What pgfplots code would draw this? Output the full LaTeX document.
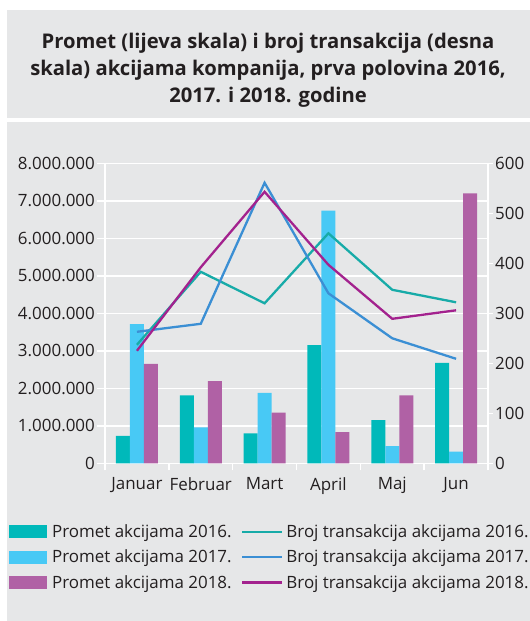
\documentclass[border=0pt]{standalone}
\usepackage{pgfplots}
\pgfplotsset{compat=1.18}
\usepackage{fontspec}
\setmainfont{Open Sans}
\definecolor{bg}{HTML}{E6E7E8}
\definecolor{barA}{HTML}{00B9BA}
\definecolor{barB}{HTML}{48C9F5}
\definecolor{barC}{HTML}{B061A5}
\definecolor{lnA}{HTML}{17ABA8}
\definecolor{lnB}{HTML}{3B8FD4}
\definecolor{lnC}{HTML}{A3228E}
\definecolor{txt}{HTML}{231F20}
\begin{document}
\begin{tikzpicture}[x=1bp,y=1bp]
\fill[bg] (7,0) rectangle (530,499);
\fill[bg] (7,503) rectangle (530,611);
\node[align=center, text=txt, font=\fontsize{20.3}{27}\selectfont\bfseries] at (268,551)
 {Promet (lijeva skala) i broj transakcija (desna\\skala) akcijama kompanija, prva polovina 2016,\\2017. i 2018. godine};
\begin{axis}[
  at={(105bp,157.7bp)}, anchor=south west,
  scale only axis, width=383bp, height=300bp,
  xmin=-0.5, xmax=5.5, ymin=0, ymax=8000000,
  axis x line*=bottom, axis y line*=left,
  axis line style={white, line width=1.5bp, -},
  xtick={0,1,2,3,4,5},
  xticklabels={Januar,Februar,Mart,April,Maj,Jun},
  minor xtick={-0.5,0.5,1.5,2.5,3.5,4.5,5.5},
  major x tick style={draw=none},
  minor x tick style={white, line width=1.5bp},
  ytick={0,1000000,2000000,3000000,4000000,5000000,6000000,7000000,8000000},
  yticklabels={0,1.000.000,2.000.000,3.000.000,4.000.000,5.000.000,6.000.000,7.000.000,8.000.000},
  scaled y ticks=false,
  tick align=outside,
  major tick length=8bp, minor tick length=7bp,
  y tick style={white, line width=1.5bp},
  ymajorgrids, grid style={white, line width=1.5bp},
  tick label style={font=\fontsize{17}{20}\selectfont, text=txt},
  yticklabel style={inner sep=2bp},
  xticklabel style={inner sep=2bp, yshift=-4bp},
  legend style={at={(-0.2507,-0.197)}, anchor=north west, draw=none, fill=none,
    font=\fontsize{17}{20}\selectfont, text=txt, row sep=7bp, inner sep=0pt,
    nodes={inner sep=2bp}},
  legend cell align=left,
]
\addplot[ybar, bar width=14bp, bar shift=-14bp, fill=barA, draw=none,
  legend image code/.code={\path[fill=barA] (0bp,-6.5bp) rectangle (38bp,6.5bp); \path (41bp,0bp);}]
  coordinates {(0,730000) (1,1810000) (2,800000) (3,3150000) (4,1150000) (5,2680000)};
\addlegendentry{Promet akcijama 2016.}
\addplot[ybar, bar width=14bp, bar shift=0bp, fill=barB, draw=none,
  legend image code/.code={\path[fill=barB] (0bp,-6.5bp) rectangle (38bp,6.5bp); \path (41bp,0bp);}]
  coordinates {(0,3710000) (1,960000) (2,1880000) (3,6740000) (4,460000) (5,310000)};
\addlegendentry{Promet akcijama 2017.}
\addplot[ybar, bar width=14bp, bar shift=14bp, fill=barC, draw=none,
  legend image code/.code={\path[fill=barC] (0bp,-6.5bp) rectangle (38bp,6.5bp); \path (41bp,0bp);}]
  coordinates {(0,2650000) (1,2190000) (2,1350000) (3,830000) (4,1810000) (5,7200000)};
\addlegendentry{Promet akcijama 2018.}
\end{axis}
\begin{axis}[
  at={(105bp,157.7bp)}, anchor=south west,
  scale only axis, width=383bp, height=300bp,
  xmin=-0.5, xmax=5.5, ymin=0, ymax=600,
  axis x line=none, axis y line*=right,
  axis line style={white, line width=1.5bp, -},
  ytick={0,100,200,300,400,500,600},
  yticklabels={0,100,200,300,400,500,600},
  tick align=outside, major tick length=5bp,
  y tick style={white, line width=1.5bp},
  tick label style={font=\fontsize{17}{20}\selectfont, text=txt},
  yticklabel style={inner sep=2bp},
  clip=false,
  legend style={at={(0.355,-0.197)}, anchor=north west, draw=none, fill=none,
    font=\fontsize{17}{20}\selectfont, text=txt, row sep=7bp, inner sep=0pt,
    nodes={inner sep=2bp}},
  legend cell align=left,
  legend image code/.code={\draw[#1] (0bp,0bp) -- (40bp,0bp); \path (41bp,0bp);},
]
\addplot[lnA, line width=2.3bp] coordinates {(0,237) (1,383) (2,320) (3,460) (4,347) (5,322)};
\addlegendentry{Broj transakcija akcijama 2016.}
\addplot[lnB, line width=2.3bp] coordinates {(0,263) (1,279) (2,561) (3,340) (4,250) (5,209)};
\addlegendentry{Broj transakcija akcijama 2017.}
\addplot[lnC, line width=2.3bp] coordinates {(0,225) (1,392) (2,543) (3,397) (4,289) (5,306)};
\addlegendentry{Broj transakcija akcijama 2018.}
\end{axis}
\pgfresetboundingbox
\path (0,0) rectangle (530,621);
\end{tikzpicture}
\end{document}
